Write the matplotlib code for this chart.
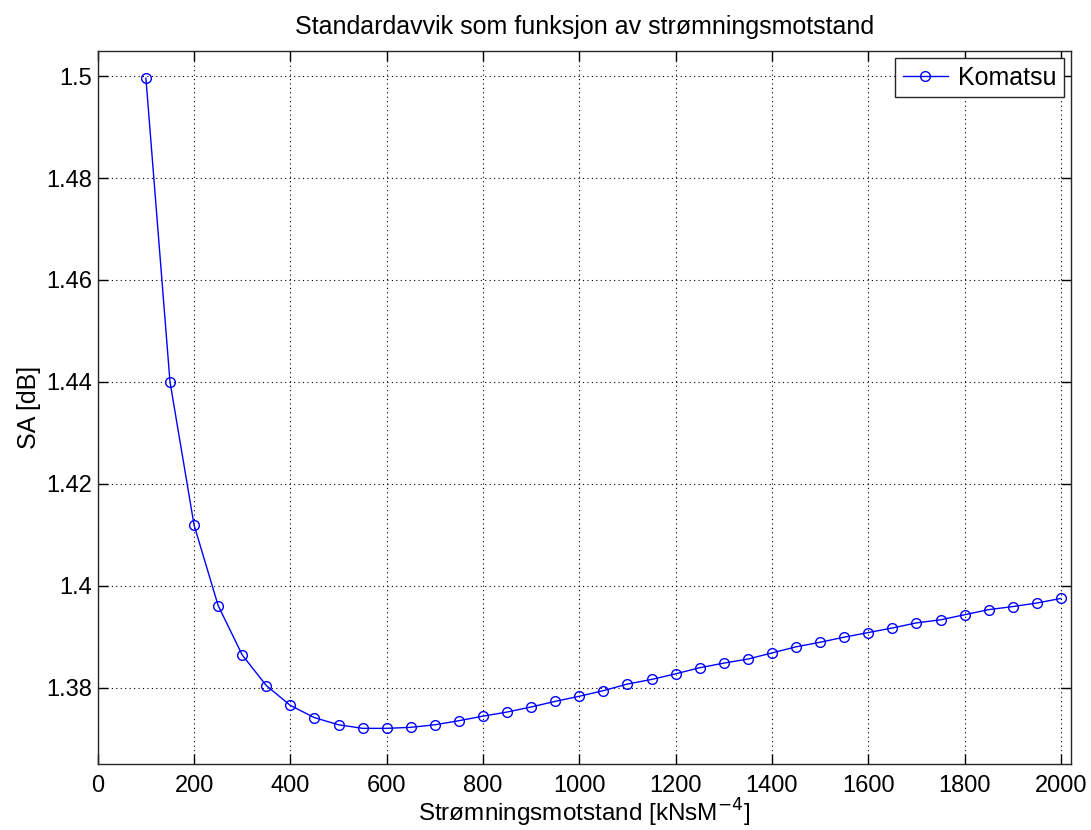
import numpy as np
import matplotlib.pyplot as plt

plt.rcParams['font.family'] = ['Liberation Sans', 'DejaVu Sans']

# Strømningsmotstand [kNsM^-4]
motstand = np.arange(100, 2001, 50)
# Standardavvik SA [dB]
sa = [1.4996, 1.4400, 1.4119, 1.3961, 1.3864, 1.3804, 1.3765, 1.3741,
      1.3727, 1.3720, 1.3720, 1.3722, 1.3727, 1.3735, 1.3744, 1.3752,
      1.3762, 1.3773, 1.3783, 1.3794, 1.3807, 1.3816, 1.3827, 1.3839,
      1.3848, 1.3856, 1.3868, 1.3880, 1.3889, 1.3899, 1.3908, 1.3917,
      1.3927, 1.3933, 1.3943, 1.3953, 1.3959, 1.3966, 1.3975]

fig = plt.figure(figsize=(10.91, 8.30), dpi=100)
ax = fig.add_axes([0.0896, 0.0795, 0.8921, 0.8594])

ax.plot(motstand, sa, '-o', color='#0000ff', lw=1.0, ms=7,
        mfc='none', mew=1.0, label='Komatsu')

ax.set_xlim(0, 2021)
ax.set_ylim(1.365, 1.505)
ax.set_xticks(np.arange(0, 2001, 200))
ax.set_yticks([1.38, 1.40, 1.42, 1.44, 1.46, 1.48, 1.50])
ax.set_yticklabels(['1.38', '1.4', '1.42', '1.44', '1.46', '1.48', '1.5'])

ax.grid(True, color='black', linestyle=(0, (1, 3)), linewidth=0.8)
ax.tick_params(direction='in', length=7, width=1, labelsize=17,
               top=True, right=True)
ax.tick_params(axis='y', pad=4)
ax.tick_params(axis='x', pad=8)
for s in ax.spines.values():
    s.set_linewidth(1.0)
    s.set_color('#262626')

ax.set_title('Standardavvik som funksjon av strømningsmotstand',
             fontsize=18, pad=12)
ax.set_xlabel('Strømningsmotstand [kNsM$^{-4}$]', fontsize=17.5, labelpad=0)
ax.set_ylabel('SA [dB]', fontsize=18, labelpad=4)

leg = ax.legend(loc='upper right', fontsize=18, fancybox=False,
                framealpha=1, edgecolor='#262626', borderaxespad=0.3,
                handlelength=1.8, handletextpad=0.4, borderpad=0.3)
leg.get_frame().set_linewidth(1.0)

plt.savefig('out.png', dpi=100)
